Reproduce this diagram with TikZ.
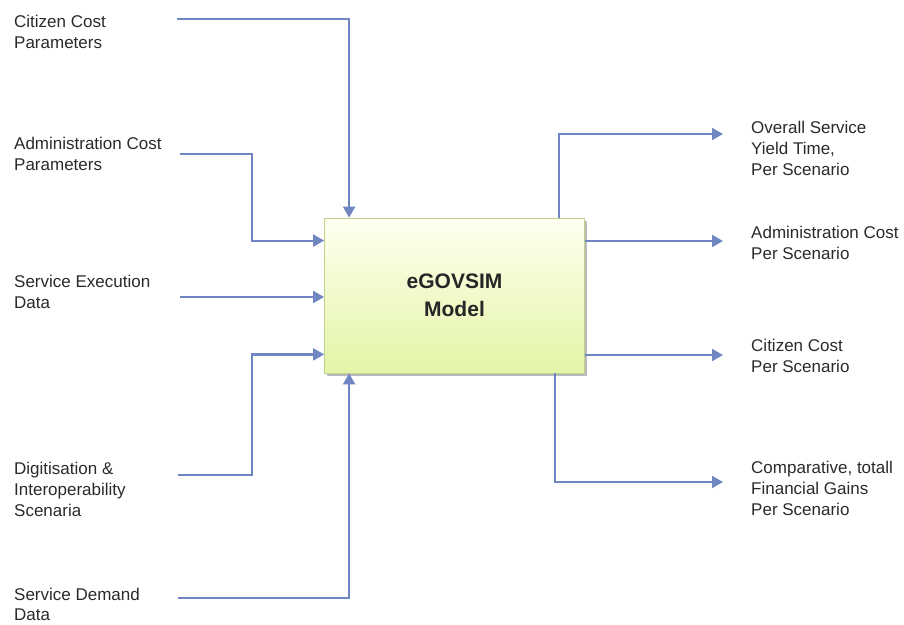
\documentclass[tikz,border=0pt]{standalone}
\usepackage{fontspec}
\setmainfont{Liberation Sans}
\usetikzlibrary{arrows.meta,calc,shadows}
\definecolor{flow}{HTML}{6F86C2}
\definecolor{ink}{HTML}{2A2A2A}
\definecolor{boxtop}{HTML}{FFFFF0}
\definecolor{boxbottom}{HTML}{E3F5A6}
\definecolor{boxline}{HTML}{BFD28E}
\begin{document}
\begin{tikzpicture}[x=1pt,y=-1pt,
  label/.style={font=\fontsize{17}{21}\selectfont, text=ink, align=left,
    anchor=north west, inner sep=0pt},
  flowline/.style={draw=flow, line width=2.2pt, -{Triangle[length=11pt,width=12pt]}},
  modelbox/.style={rectangle, draw=boxline, line width=0.8pt,
    top color=boxtop, bottom color=boxbottom,
    minimum width=260pt, minimum height=155pt, inner sep=0pt,
    drop shadow={shadow xshift=2pt, shadow yshift=-3pt, fill=black!45, opacity=0.6},
    font=\bfseries\fontsize{21}{28}\selectfont, text=black!85, align=center}]
\useasboundingbox (0,0) rectangle (904,624);

% central model
\node[modelbox] (model) at (454.5,295.5) {eGOVSIM\\Model};

% inputs
\node[label] (inCit) at (14,15) {Citizen Cost\\Parameters};
\node[label] (inAdm) at (14,137) {Administration Cost\\Parameters};
\node[label] (inExe) at (14,275) {Service Execution\\Data};
\node[label] (inDig) at (14,462) {Digitisation \&\\Interoperability\\Scenaria};
\node[label, font=\fontsize{17}{20}\selectfont] (inDem) at (14,588) {Service Demand\\Data};

\coordinate (sCit) at (177,19);
\coordinate (sAdm) at (180,154);
\coordinate (sExe) at (180,297);
\coordinate (sDig) at (178,475);
\coordinate (sDem) at (178,598);

\coordinate (jAdm) at (252,154);
\coordinate (jDig) at (252,475);

\draw[flowline] (sCit) -| ($(model.north west)+(25,0)$);
\draw[flowline] (sAdm) -- (jAdm) |- ($(model.north west)+(0,23)$);
\draw[flowline] (sExe) -- (sExe -| model.west);
\draw[flowline] (sDig) -- (jDig) |- ($(model.south west)+(0,-19)$);
\draw[flowline] (sDem) -| ($(model.south west)+(25,0)$);

% outputs
\node[label] (outYield) at (751,121) {Overall Service\\Yield Time,\\Per Scenario};
\node[label] (outAdm) at (751,226) {Administration Cost\\Per Scenario};
\node[label] (outCit) at (751,339) {Citizen Cost\\Per Scenario};
\node[label] (outGain) at (751,461) {Comparative, totall\\Financial Gains\\Per Scenario};

\coordinate (eYield) at (723,134);
\coordinate (eAdm) at (723,241);
\coordinate (eCit) at (723,355);
\coordinate (eGain) at (723,482);

\draw[flowline] ($(model.north west)+(235,0)$) |- (eYield);
\draw[flowline] (eAdm -| model.east) -- (eAdm);
\draw[flowline] (eCit -| model.east) -- (eCit);
\draw[flowline] ($(model.south west)+(231,0)$) |- (eGain);
\end{tikzpicture}
\end{document}
